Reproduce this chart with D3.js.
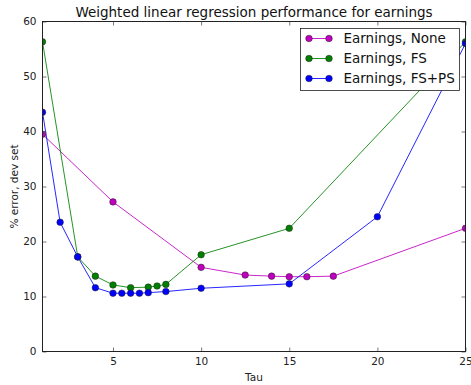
<!DOCTYPE html>
<html>
<head>
<meta charset="utf-8">
<script src="https://cdn.jsdelivr.net/npm/d3@7"></script>
<style>
  html, body { margin: 0; padding: 0; background: #fff; }
  svg { display: block; font-family: "DejaVu Sans", sans-serif; }
</style>
</head>
<body>
<svg id="chart" width="471" height="385"></svg>
<script>
// Tau values and dev-set error (%) for each feature setting
const tauNone = [1, 5, 10, 12.5, 14, 15, 16, 17.5, 25];
const errNone = [39.5, 27.2, 15.3, 13.9, 13.7, 13.6, 13.6, 13.7, 22.4];

const tauFS = [1, 3, 4, 5, 6, 7, 7.5, 8, 10, 15, 25];
const errFS = [56.3, 17.2, 13.7, 12.1, 11.6, 11.7, 11.9, 12.2, 17.6, 22.4, 56.3];

const tauFSPS = [1, 2, 3, 4, 5, 5.5, 6, 6.5, 7, 8, 10, 15, 20, 25];
const errFSPS = [43.5, 23.5, 17.2, 11.6, 10.6, 10.6, 10.6, 10.6, 10.7, 10.9, 11.5, 12.3, 24.5, 56.0];

const seriesNames = ["Earnings, None", "Earnings, FS", "Earnings, FS+PS"];
const seriesColors = ["#bf00bf", "#008000", "#0000ff"];

const xTicks = [5, 10, 15, 20, 25];
const yTicks = [0, 10, 20, 30, 40, 50, 60];

const titleText = "Weighted linear regression performance for earnings";
const xLabel = "Tau";
const yLabel = "% error, dev set";

const series = [
  { name: seriesNames[0], color: seriesColors[0], pts: tauNone.map((t, i) => [t, errNone[i]]) },
  { name: seriesNames[1], color: seriesColors[1], pts: tauFS.map((t, i) => [t, errFS[i]]) },
  { name: seriesNames[2], color: seriesColors[2], pts: tauFSPS.map((t, i) => [t, errFSPS[i]]) }
];

const svg = d3.select("#chart");
const plotL = 42.5, plotR = 465.5, plotT = 21.5, plotB = 351.5;

const x = d3.scaleLinear().domain([1, 25]).range([plotL, plotR]);
const y = d3.scaleLinear().domain([0, 60]).range([plotB, plotT]);

// clip so markers at the edges are cut by the frame
svg.append("defs").append("clipPath").attr("id", "clip")
  .append("rect").attr("x", plotL).attr("y", plotT)
  .attr("width", plotR - plotL).attr("height", plotB - plotT);

const lineGen = d3.line().x(d => x(d[0])).y(d => y(d[1]));
const dataG = svg.append("g").attr("clip-path", "url(#clip)");

series.forEach(s => {
  dataG.append("path")
    .attr("d", lineGen(s.pts))
    .attr("fill", "none")
    .attr("stroke", s.color)
    .attr("stroke-opacity", 0.85)
    .attr("stroke-width", 1);
});
series.forEach(s => {
  dataG.selectAll(null).data(s.pts).enter().append("circle")
    .attr("cx", d => x(d[0]))
    .attr("cy", d => y(d[1]))
    .attr("r", 3.3)
    .attr("fill", s.color)
    .attr("stroke", "#222")
    .attr("stroke-width", 0.5);
});

// axes: ticks pointing inward, mirrored on top and right
const tickLen = 4;
const axB = d3.axisBottom(x).tickValues(xTicks).tickSizeInner(-tickLen).tickSizeOuter(0).tickPadding(6);
const axT = d3.axisTop(x).tickValues(xTicks).tickSizeInner(-tickLen).tickSizeOuter(0).tickFormat("");
const axL = d3.axisLeft(y).tickValues(yTicks).tickSizeInner(-tickLen).tickSizeOuter(0).tickPadding(6);
const axR = d3.axisRight(y).tickValues(yTicks).tickSizeInner(-tickLen).tickSizeOuter(0).tickFormat("");

function styleAxis(g) {
  g.select(".domain").remove();
  g.selectAll(".tick line").attr("stroke", "#555").attr("stroke-width", 0.8);
  g.selectAll(".tick text").attr("fill", "#222").style("font-size", "10.5px")
    .style("font-family", "'DejaVu Sans', sans-serif");
}

svg.append("g").attr("transform", `translate(0,${plotB})`).call(axB).call(styleAxis);
svg.append("g").attr("transform", `translate(0,${plotT})`).call(axT).call(styleAxis);
svg.append("g").attr("transform", `translate(${plotL},0)`).call(axL).call(styleAxis);
svg.append("g").attr("transform", `translate(${plotR},0)`).call(axR).call(styleAxis);

// frame
svg.append("rect")
  .attr("x", plotL).attr("y", plotT)
  .attr("width", plotR - plotL).attr("height", plotB - plotT)
  .attr("fill", "none").attr("stroke", "#222").attr("stroke-width", 1);

// title and axis labels
svg.append("text")
  .attr("x", (plotL + plotR) / 2).attr("y", 17)
  .attr("text-anchor", "middle")
  .style("font-size", "13.5px").attr("fill", "#111")
  .text(titleText);

svg.append("text")
  .attr("x", (plotL + plotR) / 2).attr("y", 381)
  .attr("text-anchor", "middle")
  .style("font-size", "10.5px").attr("fill", "#222")
  .text(xLabel);

svg.append("text")
  .attr("transform", `translate(18,${(plotT + plotB) / 2}) rotate(-90)`)
  .attr("text-anchor", "middle")
  .style("font-size", "10.5px").attr("fill", "#222")
  .text(yLabel);

// legend
const lg = svg.append("g");
lg.append("rect")
  .attr("x", 300.5).attr("y", 28.5)
  .attr("width", 159).attr("height", 62)
  .attr("fill", "#fff").attr("stroke", "#222").attr("stroke-width", 0.8);

series.forEach((s, i) => {
  const cy = 38.5 + i * 20;
  lg.append("line")
    .attr("x1", 309).attr("x2", 329).attr("y1", cy).attr("y2", cy)
    .attr("stroke", s.color).attr("stroke-opacity", 0.85).attr("stroke-width", 1);
  [309, 329].forEach(cx => {
    lg.append("circle").attr("cx", cx).attr("cy", cy).attr("r", 3.3)
      .attr("fill", s.color).attr("stroke", "#222").attr("stroke-width", 0.5);
  });
  lg.append("text")
    .attr("x", 343.5).attr("y", cy)
    .attr("dy", "0.35em")
    .style("font-size", "13.5px").attr("fill", "#111")
    .text(s.name);
});
</script>
</body>
</html>
